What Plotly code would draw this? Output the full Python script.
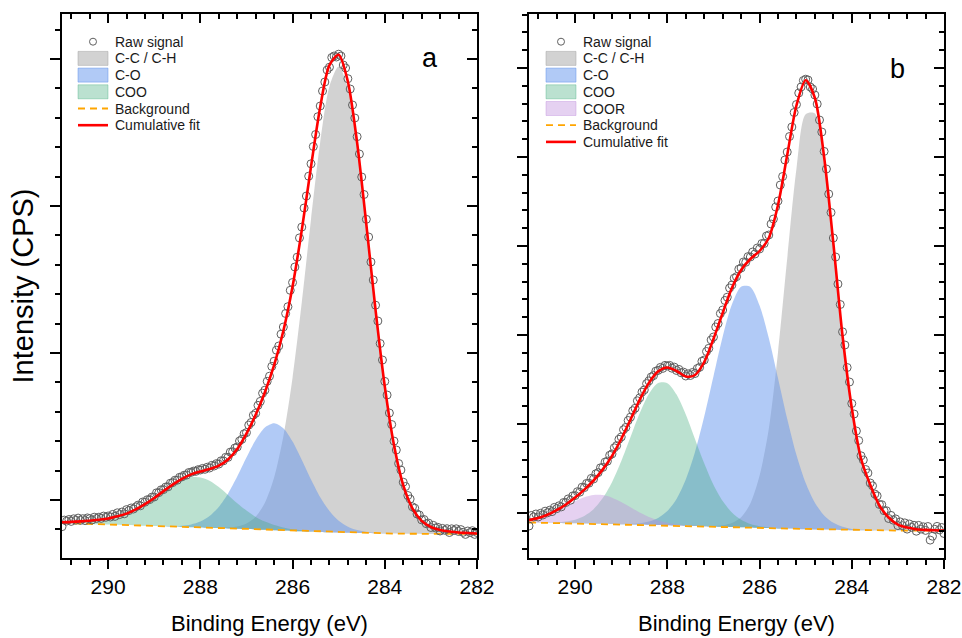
import plotly.graph_objects as go

# ---------------- data ----------------
# Binding energy grid of the fitted curves (eV)
E_GRID = [291.0, 290.8, 290.6, 290.4, 290.2, 290.0, 289.8, 289.6, 289.4, 289.2,
          289.0, 288.8, 288.6, 288.4, 288.2, 288.0, 287.8, 287.6, 287.4, 287.2,
          287.0, 286.8, 286.6, 286.4, 286.2, 286.0, 285.8, 285.6, 285.4, 285.2,
          285.0, 284.8, 284.6, 284.4, 284.2, 284.0, 283.8, 283.6, 283.4, 283.2,
          283.0, 282.8, 282.6, 282.4, 282.2, 282.0]

# Binding energy of the raw data points (eV)
E_RAW = [291.00, 290.95, 290.90, 290.85, 290.80, 290.75, 290.70, 290.65, 290.60, 290.55,
         290.50, 290.45, 290.40, 290.35, 290.30, 290.25, 290.20, 290.15, 290.10, 290.05,
         290.00, 289.95, 289.90, 289.85, 289.80, 289.75, 289.70, 289.65, 289.60, 289.55,
         289.50, 289.45, 289.40, 289.35, 289.30, 289.25, 289.20, 289.15, 289.10, 289.05,
         289.00, 288.95, 288.90, 288.85, 288.80, 288.75, 288.70, 288.65, 288.60, 288.55,
         288.50, 288.45, 288.40, 288.35, 288.30, 288.25, 288.20, 288.15, 288.10, 288.05,
         288.00, 287.95, 287.90, 287.85, 287.80, 287.75, 287.70, 287.65, 287.60, 287.55,
         287.50, 287.45, 287.40, 287.35, 287.30, 287.25, 287.20, 287.15, 287.10, 287.05,
         287.00, 286.95, 286.90, 286.85, 286.80, 286.75, 286.70, 286.65, 286.60, 286.55,
         286.50, 286.45, 286.40, 286.35, 286.30, 286.25, 286.20, 286.15, 286.10, 286.05,
         286.00, 285.95, 285.90, 285.85, 285.80, 285.75, 285.70, 285.65, 285.60, 285.55,
         285.50, 285.45, 285.40, 285.35, 285.30, 285.25, 285.20, 285.15, 285.10, 285.05,
         285.00, 284.95, 284.90, 284.85, 284.80, 284.75, 284.70, 284.65, 284.60, 284.55,
         284.50, 284.45, 284.40, 284.35, 284.30, 284.25, 284.20, 284.15, 284.10, 284.05,
         284.00, 283.95, 283.90, 283.85, 283.80, 283.75, 283.70, 283.65, 283.60, 283.55,
         283.50, 283.45, 283.40, 283.35, 283.30, 283.25, 283.20, 283.15, 283.10, 283.05,
         283.00, 282.95, 282.90, 282.85, 282.80, 282.75, 282.70, 282.65, 282.60, 282.55,
         282.50, 282.45, 282.40, 282.35, 282.30, 282.25, 282.20, 282.15, 282.10, 282.05,
         282.00]

# ---- panel a ----
BG_A = [350, 347, 344, 341, 338, 335, 332, 329, 326, 323,
        320, 317, 314, 311, 308, 305, 302, 299, 296, 293,
        290, 286, 282, 278, 274, 270, 267, 264, 261, 258,
        255, 253, 251, 249, 247, 245, 244, 243, 242, 241,
        240, 240, 240, 240, 240, 240]
CC_A = [0, 0, 0, 0, 0, 0, 0, 0, 0, 0,
        0, 0, 0, 0, 0, 0, 1, 3, 8, 21,
        55, 127, 271, 528, 941, 1533, 2288, 3122, 3900, 4458,
        4660, 4450, 3874, 3076, 2226, 1469, 884, 485, 255, 130,
        70, 40, 25, 15, 10, 5]
CO_A = [0, 0, 0, 0, 0, 0, 0, 0, 0, 0,
        0, 2, 5, 12, 28, 60, 118, 212, 347, 521,
        714, 894, 1023, 1070, 1023, 894, 714, 521, 347, 212,
        118, 60, 28, 12, 5, 2, 1, 0, 0, 0,
        0, 0, 0, 0, 0, 0]
COO_A = [8, 14, 22, 32, 45, 60, 85, 115, 160, 215,
         280, 350, 415, 468, 500, 500, 470, 410, 335, 255,
         185, 125, 82, 52, 32, 18, 10, 5, 2, 0,
         0, 0, 0, 0, 0, 0, 0, 0, 0, 0,
         0, 0, 0, 0, 0, 0]
FIT_A = [358, 361, 366, 373, 383, 395, 417, 444, 486, 538,
         600, 669, 734, 791, 836, 865, 890, 924, 986, 1090,
         1244, 1432, 1658, 1928, 2270, 2715, 3279, 3912, 4510, 4928,
         5033, 4763, 4153, 3337, 2478, 1716, 1129, 728, 497, 371,
         310, 280, 265, 255, 250, 245]
RAW_A = [313, 379, 369, 385, 366, 392, 378, 399, 376, 393, 374, 401, 393, 380, 408, 395, 408, 396, 419, 407,
         420, 410, 436, 416, 452, 434, 460, 442, 484, 474, 500, 490, 511, 529, 522, 560, 558, 583, 584, 609,
         610, 652, 654, 682, 684, 710, 712, 748, 754, 778, 778, 807, 811, 828, 829, 855, 856, 869, 866, 883,
         880, 896, 887, 908, 900, 927, 920, 944, 939, 972, 971, 1007, 1006, 1059, 1063, 1100, 1110, 1170, 1187, 1242,
         1254, 1329, 1355, 1428, 1447, 1526, 1566, 1648, 1678, 1767, 1818, 1916, 1968, 2078, 2120, 2238, 2310, 2445, 2513, 2677,
         2755, 2910, 3008, 3201, 3309, 3500, 3620, 3818, 3942, 4115, 4235, 4413, 4520, 4670, 4760, 4880, 4908, 5005, 5020, 5010,
         5038, 5020, 4930, 4900, 4793, 4690, 4530, 4400, 4213, 4040, 3810, 3635, 3387, 3210, 2960, 2780, 2528, 2370, 2145, 1980,
         1766, 1630, 1450, 1335, 1169, 1080, 945, 880, 758, 715, 625, 590, 512, 498, 440, 430, 381, 385, 343, 349,
         305, 327, 300, 307, 270, 296, 277, 293, 255, 292, 275, 292, 265, 284, 257, 236, 270, 254, 273, 236,
         255]

# ---- panel b ----
BG_B = [355, 353, 352, 350, 348, 347, 345, 343, 342, 340,
        338, 336, 334, 332, 330, 328, 325, 323, 320, 318,
        315, 312, 310, 307, 305, 302, 299, 296, 294, 291,
        288, 286, 284, 282, 280, 278, 277, 276, 275, 275,
        274, 274, 273, 273, 273, 273]
CC_B = [0, 0, 0, 0, 0, 0, 0, 0, 0, 0,
        0, 0, 0, 0, 0, 0, 0, 0, 0, 2,
        5, 15, 40, 100, 240, 520, 990, 1760, 2700, 3600,
        4150, 4160, 3650, 2840, 1930, 1220, 720, 450, 250, 130,
        60, 30, 15, 8, 4, 2]
CO_B = [0, 0, 0, 0, 0, 0, 0, 0, 0, 0,
        2, 5, 13, 32, 70, 142, 266, 462, 740, 1096,
        1501, 1901, 2224, 2406, 2406, 2224, 1901, 1501, 1096, 740,
        462, 266, 142, 70, 32, 13, 5, 2, 0, 0,
        0, 0, 0, 0, 0, 0]
COO_B = [0, 1, 3, 7, 16, 36, 76, 145, 257, 418,
         629, 871, 1113, 1309, 1420, 1420, 1309, 1113, 871, 629,
         418, 257, 145, 76, 36, 16, 7, 3, 1, 0,
         0, 0, 0, 0, 0, 0, 0, 0, 0, 0,
         0, 0, 0, 0, 0, 0]
COOR_B = [25, 46, 78, 121, 171, 221, 263, 287, 287, 263,
          221, 171, 121, 78, 46, 25, 13, 6, 3, 1,
          0, 0, 0, 0, 0, 0, 0, 0, 0, 0,
          0, 0, 0, 0, 0, 0, 0, 0, 0, 0,
          0, 0, 0, 0, 0, 0]
FIT_B = [380, 400, 432, 478, 535, 604, 684, 775, 886, 1021,
         1190, 1383, 1581, 1751, 1866, 1905, 1870, 1815, 1830, 1960,
         2190, 2450, 2700, 2880, 2990, 3070, 3200, 3530, 4030, 4525,
         4778, 4600, 4010, 3150, 2220, 1500, 995, 732, 525, 405,
         334, 304, 288, 281, 277, 275]
RAW_B = [320, 425, 410, 440, 410, 447, 430, 468, 452, 478, 464, 506, 493, 522, 511, 555, 555, 591, 578, 621,
         624, 663, 658, 708, 704, 746, 748, 796, 790, 842, 854, 902, 906, 959, 968, 1027, 1041, 1102, 1124, 1187,
         1210, 1283, 1306, 1375, 1408, 1473, 1497, 1572, 1601, 1659, 1681, 1744, 1771, 1810, 1824, 1868, 1876, 1906, 1896, 1926,
         1920, 1926, 1898, 1909, 1875, 1886, 1852, 1859, 1820, 1842, 1825, 1856, 1845, 1895, 1907, 1967, 1980, 2065, 2097, 2181,
         2210, 2310, 2345, 2445, 2480, 2575, 2608, 2700, 2730, 2798, 2813, 2888, 2900, 2960, 2957, 3014, 3010, 3060, 3040, 3100,
         3090, 3145, 3145, 3220, 3230, 3340, 3390, 3510, 3570, 3730, 3815, 3980, 4060, 4215, 4310, 4455, 4535, 4650, 4710, 4775,
         4788, 4780, 4710, 4690, 4630, 4540, 4380, 4260, 4066, 3890, 3640, 3455, 3200, 3010, 2740, 2535, 2262, 2130, 1905, 1760,
         1545, 1440, 1270, 1175, 1022, 980, 885, 850, 750, 722, 640, 621, 535, 533, 473, 473, 395, 426, 378, 391,
         324, 361, 323, 351, 289, 340, 306, 327, 268, 326, 289, 312, 276, 315, 179, 218, 287, 316, 281, 305,
         245]

X_TICKS = [290, 288, 286, 284, 282]
PANEL_LABELS = ["a", "b"]

# ---------------- style ----------------
FONT = "Liberation Sans, Arial, Helvetica, sans-serif"
W, H = 962, 638
ML, MR, MT, MB = 62, 18, 14, 80
PW, PH = W - ML - MR, H - MT - MB

C_GRAY = "rgba(165,165,165,0.5)"
C_BLUE = "rgba(100,149,237,0.5)"
C_GREEN = "rgba(60,170,120,0.35)"
C_PURPLE = "rgba(190,140,220,0.4)"
C_BGLINE = "#FFA500"
C_FIT = "#FF0000"
C_RAW = "#606060"

fig = go.Figure()


def add_panel(xa, ya, bg, comps, fit, raw):
    for vals, color in comps:
        upper = [b + v for b, v in zip(bg, vals)]
        fig.add_trace(go.Scatter(
            x=E_GRID + E_GRID[::-1], y=upper + bg[::-1],
            fill="toself", fillcolor=color, mode="lines",
            line=dict(width=0, shape="spline", smoothing=0.8),
            xaxis=xa, yaxis=ya, showlegend=False, hoverinfo="skip"))
    fig.add_trace(go.Scatter(
        x=E_GRID, y=bg, mode="lines",
        line=dict(color=C_BGLINE, width=1.8, dash="7px,5px"),
        xaxis=xa, yaxis=ya, showlegend=False))
    fig.add_trace(go.Scatter(
        x=E_RAW, y=raw, mode="markers",
        marker=dict(symbol="circle-open", size=8, color=C_RAW, line=dict(width=1)),
        xaxis=xa, yaxis=ya, showlegend=False))
    fig.add_trace(go.Scatter(
        x=E_GRID, y=fit, mode="lines",
        line=dict(color=C_FIT, width=2.6, shape="spline", smoothing=0.8),
        xaxis=xa, yaxis=ya, showlegend=False))


add_panel("x", "y", BG_A, [(CC_A, C_GRAY), (CO_A, C_BLUE), (COO_A, C_GREEN)], FIT_A, RAW_A)
add_panel("x2", "y2", BG_B, [(CC_B, C_GRAY), (CO_B, C_BLUE), (COO_B, C_GREEN), (COOR_B, C_PURPLE)], FIT_B, RAW_B)

# empty helper traces so that the mirrored (inside-tick) axes are drawn
for xa, ya in [("x3", "y"), ("x", "y3"), ("x4", "y2"), ("x2", "y4")]:
    fig.add_trace(go.Scatter(x=[None], y=[None], xaxis=xa, yaxis=ya,
                             showlegend=False, hoverinfo="skip"))

XR = [291, 282]
YR = [0, 5440]
DOM_A = [0, 415 / PW]
DOM_B = [467 / PW, 1]

tickfont = dict(family=FONT, size=21, color="black")


def xbase(dom, anchor, title):
    return dict(domain=dom, anchor=anchor, range=XR, tickmode="array", tickvals=X_TICKS,
                ticktext=[str(t) for t in X_TICKS], automargin=False,
                ticks="outside", ticklen=9, tickwidth=2, tickcolor="black",
                showline=True, linewidth=2, linecolor="black", mirror=True,
                showgrid=False, zeroline=False, tickfont=tickfont,
                minor=dict(tickmode="linear", tick0=282, dtick=0.4, ticks="outside",
                           ticklen=5, tickwidth=1.5, tickcolor="black", showgrid=False),
                title=dict(text=title, font=dict(family=FONT, size=22, color="black"), standoff=18))


def xtop(over, anchor):
    return dict(overlaying=over, anchor=anchor, side="top", range=XR, automargin=False,
                tickmode="linear", tick0=282, dtick=2, ticks="inside", ticklen=9,
                tickwidth=2, tickcolor="black", showticklabels=False, showline=False,
                showgrid=False, zeroline=False,
                minor=dict(tickmode="linear", tick0=282, dtick=0.4, ticks="inside",
                           ticklen=5, tickwidth=1.5, tickcolor="black", showgrid=False))


def ybase(anchor, t0, dt, title):
    d = dict(anchor=anchor, domain=[0, 1], range=YR, tickmode="linear", tick0=t0, dtick=dt,
             ticks="outside", ticklen=10, tickwidth=2, tickcolor="black", automargin=False,
             showticklabels=False, showline=True, linewidth=2, linecolor="black",
             mirror=True, showgrid=False, zeroline=False,
             minor=dict(tickmode="linear", tick0=t0, dtick=dt / 5, ticks="outside",
                        ticklen=5, tickwidth=1.5, tickcolor="black", showgrid=False))
    if title:
        d["title"] = dict(text=title, font=dict(family=FONT, size=29, color="black"), standoff=8)
    return d


def yright(over, anchor, t0, dt):
    return dict(overlaying=over, anchor=anchor, side="right", range=YR, tickmode="linear",
                tick0=t0, dtick=dt, ticks="inside", ticklen=10, tickwidth=2, automargin=False,
                tickcolor="black", showticklabels=False, showline=False,
                showgrid=False, zeroline=False,
                minor=dict(tickmode="linear", tick0=t0, dtick=dt / 5, ticks="inside",
                           ticklen=5, tickwidth=1.5, tickcolor="black", showgrid=False))


fig.update_layout(
    width=W, height=H, margin=dict(l=ML, r=MR, t=MT, b=MB, autoexpand=False),
    paper_bgcolor="white", plot_bgcolor="white", showlegend=False,
    font=dict(family=FONT, color="black"),
    xaxis=xbase(DOM_A, "y", "Binding Energy (eV)"),
    xaxis2=xbase(DOM_B, "y2", "Binding Energy (eV)"),
    xaxis3=xtop("x", "y"),
    xaxis4=xtop("x2", "y2"),
    yaxis=ybase("x", 580, 1470, "Intensity (CPS)"),
    yaxis2=ybase("x2", 450, 890, None),
    yaxis3=yright("y", "x", 580, 1470),
    yaxis4=yright("y2", "x2", 450, 890),
)


# ---------------- legends (drawn as shapes + text) ----------------
def P(px, py):
    return (px - ML) / PW, (H - MB - py) / PH


shapes, annots = [], []


def legend(x0, y0, items):
    for k, (kind, color, label) in enumerate(items):
        cy = y0 + k * 16.7
        if kind == "marker":
            ax0, ay0 = P(x0 + 11.5, cy - 3.5)
            ax1, ay1 = P(x0 + 18.5, cy + 3.5)
            shapes.append(dict(type="circle", xref="paper", yref="paper", x0=ax0, x1=ax1,
                               y0=ay1, y1=ay0, line=dict(color="#606060", width=1)))
        elif kind == "box":
            ax0, ay0 = P(x0, cy - 7)
            ax1, ay1 = P(x0 + 30, cy + 7)
            shapes.append(dict(type="rect", xref="paper", yref="paper", x0=ax0, x1=ax1,
                               y0=ay1, y1=ay0, fillcolor=color,
                               line=dict(color=color, width=1)))
        else:
            ax0, ay = P(x0, cy)
            ax1, _ = P(x0 + 30, cy)
            shapes.append(dict(type="line", xref="paper", yref="paper", x0=ax0, x1=ax1,
                               y0=ay, y1=ay,
                               line=dict(color=color, width=1.8 if kind == "dash" else 2.6,
                                         dash="7px,5px" if kind == "dash" else "solid")))
        tx, ty = P(x0 + 35, cy)
        annots.append(dict(text=label, xref="paper", yref="paper", x=tx, y=ty,
                           xanchor="left", yanchor="middle", showarrow=False,
                           font=dict(family=FONT, size=14, color="#1a1a1a")))


legend(78, 41.7, [("marker", None, "Raw signal"), ("box", C_GRAY, "C-C / C-H"),
                  ("box", C_BLUE, "C-O"), ("box", C_GREEN, "COO"),
                  ("dash", C_BGLINE, "Background"), ("line", C_FIT, "Cumulative fit")])
legend(546, 41.7, [("marker", None, "Raw signal"), ("box", C_GRAY, "C-C / C-H"),
                   ("box", C_BLUE, "C-O"), ("box", C_GREEN, "COO"), ("box", C_PURPLE, "COOR"),
                   ("dash", C_BGLINE, "Background"), ("line", C_FIT, "Cumulative fit")])

for lab, (px, py) in zip(PANEL_LABELS, [(430, 58), (897, 69)]):
    lx, ly = P(px, py)
    annots.append(dict(text=lab, xref="paper", yref="paper", x=lx, y=ly,
                       xanchor="center", yanchor="middle", showarrow=False,
                       font=dict(family=FONT, size=27, color="black")))

fig.update_layout(shapes=shapes, annotations=annots)

fig.write_html("out.html")
